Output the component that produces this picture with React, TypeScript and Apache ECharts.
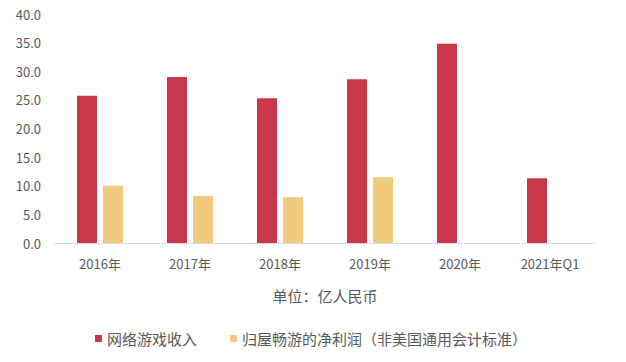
import React, { useEffect, useRef } from "react";
import * as echarts from "echarts";

const categories = ["2016年", "2017年", "2018年", "2019年", "2020年", "2021年Q1"];
const gameRevenue = [25.7, 29.0, 25.3, 28.6, 34.8, 11.3];
const netProfit: (number | null)[] = [10.0, 8.2, 8.0, 11.5, null, null];
const seriesNames = ["网络游戏收入", "归屋畅游的净利润（非美国通用会计标准）"];
const axisTitle = "单位：亿人民币";

const FONT = "'Noto Sans CJK SC', 'Noto Sans', sans-serif";
const TEXT = "#595959";

export default function App() {
  const ref = useRef<HTMLDivElement>(null);
  useEffect(() => {
    if (!ref.current) return;
    const chart = echarts.init(ref.current, undefined, { renderer: "svg" });
    chart.setOption({
      animation: false,
      backgroundColor: "#ffffff",
      textStyle: { fontFamily: FONT },
      grid: { left: 55, right: 31, top: 14, bottom: 119, containLabel: false },
      legend: {
        left: 90,
        top: 326,
        icon: "rect",
        itemWidth: 7,
        itemHeight: 7,
        itemGap: 33,
        textStyle: { color: TEXT, fontSize: 15, fontFamily: FONT },
        data: seriesNames,
      },
      xAxis: {
        type: "category",
        data: categories,
        axisLine: { lineStyle: { color: "#d9d9d9", width: 1 } },
        axisTick: { show: false },
        axisLabel: { color: TEXT, fontSize: 13, margin: 14, fontFamily: FONT },
        name: axisTitle,
        nameLocation: "middle",
        nameGap: 45,
        nameTextStyle: { color: TEXT, fontSize: 15, fontFamily: FONT },
      },
      yAxis: {
        type: "value",
        min: 0,
        max: 40,
        interval: 5,
        axisLine: { show: false },
        axisTick: { show: false },
        splitLine: { show: false },
        axisLabel: {
          color: TEXT,
          fontSize: 13,
          margin: 14,
          fontFamily: FONT,
          formatter: (v: number) => v.toFixed(1),
        },
      },
      series: [
        {
          name: seriesNames[0],
          type: "bar",
          data: gameRevenue,
          barWidth: 20,
          barGap: "30%",
          itemStyle: { color: "#C8374A" },
        },
        {
          name: seriesNames[1],
          type: "bar",
          data: netProfit,
          barWidth: 20,
          itemStyle: { color: "#F1CA7E" },
        },
      ],
    });
    return () => chart.dispose();
  }, []);
  return <div ref={ref} style={{ width: 626, height: 362, margin: -8 }} />;
}
